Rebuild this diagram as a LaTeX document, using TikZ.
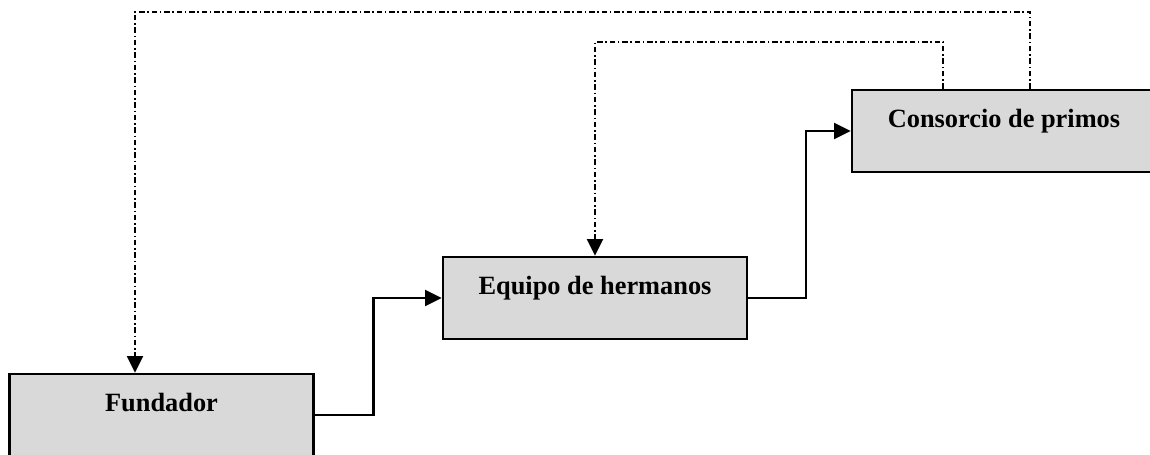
\documentclass[tikz,border=0pt]{standalone}
\usepackage{fontspec}
\setmainfont{Liberation Serif}
\usetikzlibrary{arrows.meta}

\begin{document}
\begin{tikzpicture}[->, >={Triangle[length=9.5pt,width=9pt]}, line width=1.5pt]
 % Define block styles
	\tikzstyle{stage} = [rectangle, draw, line width=1.3pt, fill=black!15, minimum width=6.08cm, minimum height=1.64cm, font=\bfseries\fontsize{15}{18}\selectfont, text height=11pt, text depth=15.5pt]
	\tikzstyle{feedback} = [dash pattern=on 0.11cm off 0.055cm on 0.03cm off 0.055cm]
	\useasboundingbox (0,0) rectangle (23,9.08);
%%====Stages===============================================================
	\node	[stage]	(fundador)	at (3.23,0.78)	{Fundador};
	\node	[stage]	(equipo)	at (11.9,3.12)	{Equipo de hermanos};
	\node	[stage]	(consorcio)	at (20.08,6.46)	{Consorcio de primos};
%%====Succession===============================================================
	\draw (fundador.east) -- ++(1.18,0) |- (equipo.west);
	\draw (equipo.east) -- ++(1.16,0) |- (consorcio.west);
%%====Feedback===============================================================
	\draw [feedback] ([xshift=0.52cm]consorcio.north) -- ++(0,1.54) -| ([xshift=-0.53cm]fundador.north);
	\draw [feedback] ([xshift=-1.22cm]consorcio.north) -- ++(0,0.94) -| (equipo.north);
\end{tikzpicture}
\end{document}
